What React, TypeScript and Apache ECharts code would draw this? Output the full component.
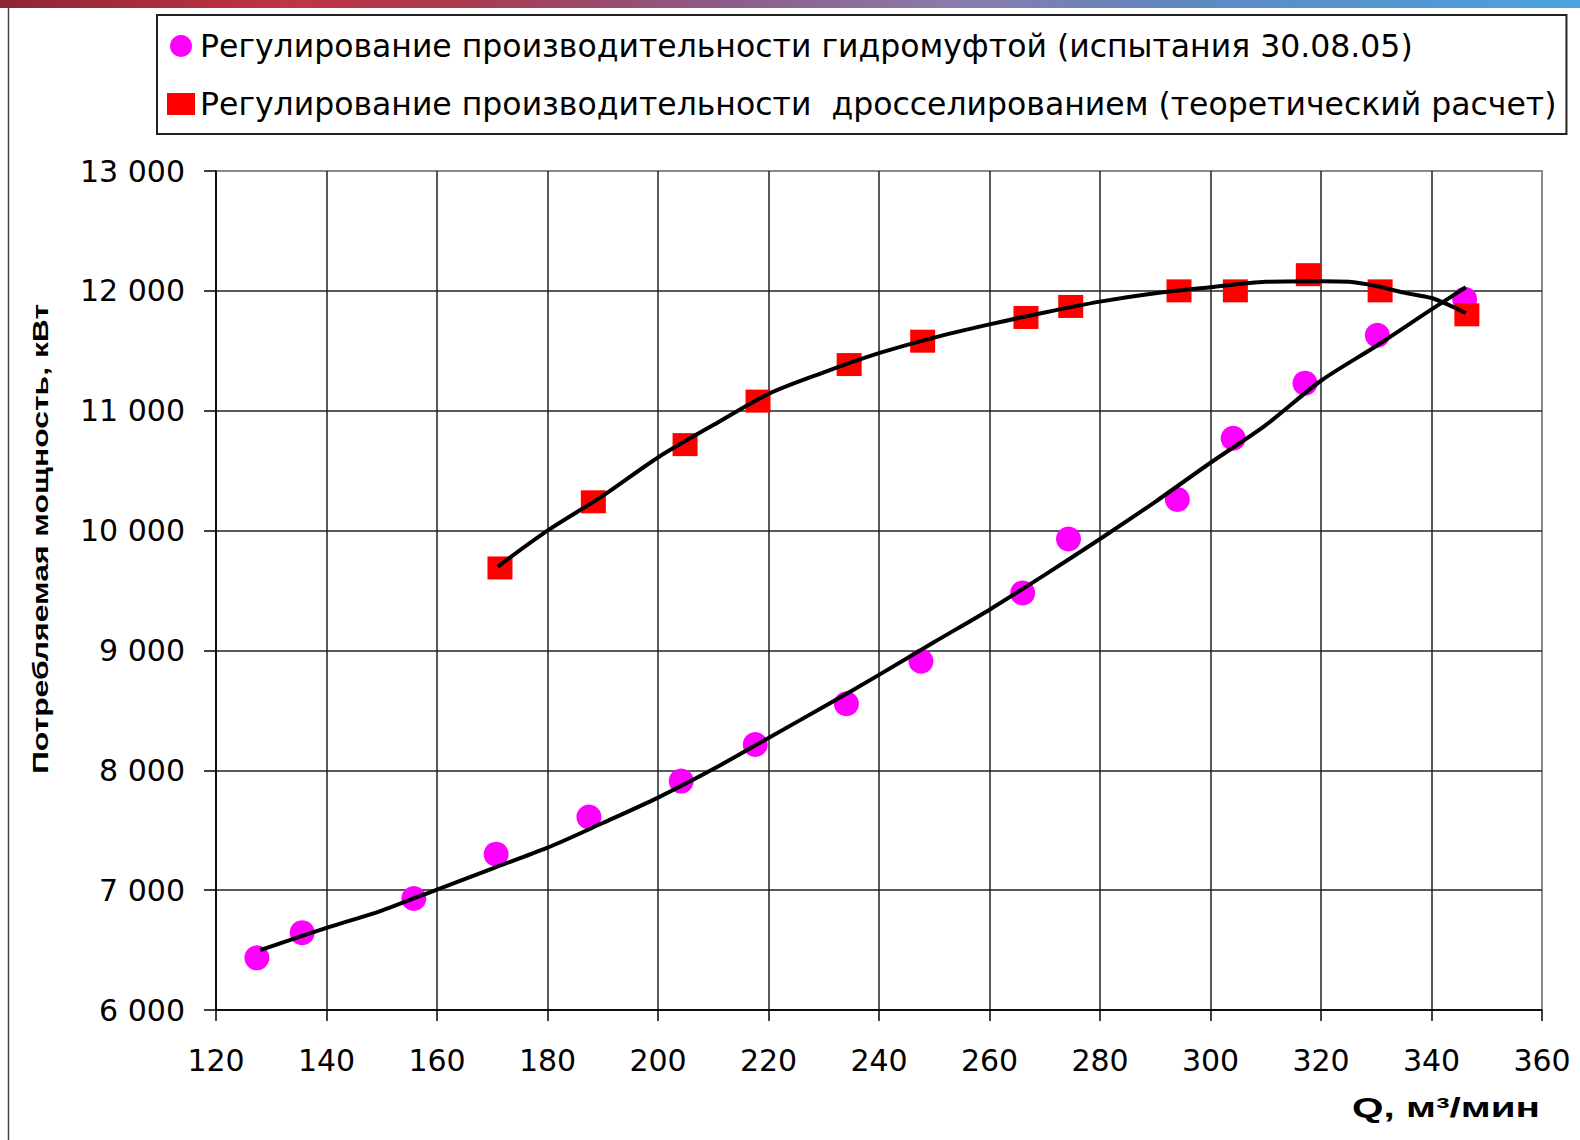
import React, { useEffect, useRef } from "react";
import * as echarts from "echarts";

// Regulation by hydraulic coupling (tests 30.08.05)
const hydroQ = [127.4, 135.6, 155.8, 170.7, 187.5, 204.2, 217.6, 234.1, 247.6, 266.0, 274.3, 294.0, 304.1, 317.1, 330.2, 346.0];
const hydroP = [6435, 6645, 6930, 7300, 7610, 7910, 8215, 8555, 8910, 9480, 9930, 10260, 10770, 11230, 11630, 11930];

// Regulation by throttling (theoretical calculation)
const throttleQ = [171.4, 188.3, 204.9, 218.1, 234.6, 247.9, 266.6, 274.7, 294.3, 304.5, 317.7, 330.7, 346.4];
const throttleP = [9688, 10240, 10717, 11080, 11385, 11580, 11778, 11870, 12000, 12000, 12135, 12000, 11800];

// Trend curves
const hydroTrendQ = [128, 140, 150, 160, 170, 180, 190, 200, 210, 220, 230, 240, 250, 260, 270, 280, 290, 300, 310, 320, 330, 340, 346.2];
const hydroTrendP = [6500, 6685, 6830, 7005, 7180, 7354, 7560, 7772, 8010, 8270, 8530, 8796, 9070, 9340, 9630, 9930, 10240, 10566, 10880, 11250, 11540, 11845, 12030];
const throttleTrendQ = [171, 180, 190, 200, 210, 220, 230, 240, 250, 260, 270, 280, 290, 300, 310, 320, 325, 330, 335, 340, 343, 346.2];
const throttleTrendP = [9700, 10000, 10290, 10610, 10880, 11140, 11320, 11480, 11610, 11720, 11820, 11910, 11980, 12030, 12075, 12080, 12075, 12040, 11985, 11940, 11885, 11815];

const seriesNames = [
  "Регулирование производительности гидромуфтой (испытания 30.08.05)",
  "Регулирование производительности  дросселированием (теоретический расчет)",
];
const yAxisTitle = "Потребляемая мощность, кВт";
const xAxisTitle = "Q, м³/мин";

const xMin = 120, xMax = 360, xStep = 20;
const yMin = 6000, yMax = 13000, yStep = 1000;

const fmtThousands = (v: number) => String(v).replace(/\B(?=(\d{3})+(?!\d))/g, " ");

export default function App() {
  const ref = useRef<HTMLDivElement>(null);
  useEffect(() => {
    if (!ref.current) return;
    const chart = echarts.init(ref.current, undefined, { renderer: "svg" });
    const pairs = (xs: number[], ys: number[]) => xs.map((x, i) => [x, ys[i]]);
    const labelFont = "DejaVu Sans";
    chart.setOption({
      animation: false,
      backgroundColor: "#ffffff",
      grid: {
        show: true,
        left: 216,
        top: 171,
        right: 38,
        bottom: 130,
        borderColor: "#8a8a8a",
        borderWidth: 2,
        backgroundColor: "transparent",
      },
      legend: {
        orient: "vertical",
        left: 157,
        top: 15,
        padding: [15, 10, 14, 10],
        itemGap: 26,
        itemWidth: 28,
        itemHeight: 22,
        borderColor: "#222",
        borderWidth: 2,
        backgroundColor: "#fff",
        textStyle: { fontFamily: labelFont, fontSize: 31.5, color: "#000", lineHeight: 31 },
        data: [
          { name: seriesNames[0], icon: "circle" },
          { name: seriesNames[1], icon: "rect" },
        ],
      },
      xAxis: {
        type: "value",
        min: xMin,
        max: xMax,
        interval: xStep,
        axisLine: { show: true, onZero: false, lineStyle: { color: "#000", width: 1.5 } },
        axisTick: { show: true, length: 11, lineStyle: { color: "#000", width: 1.5 } },
        splitLine: { show: true, showMaxLine: false, lineStyle: { color: "#222", width: 1.5 } },
        axisLabel: { fontFamily: labelFont, fontSize: 30, color: "#000", margin: 35 },
      },
      yAxis: {
        type: "value",
        min: yMin,
        max: yMax,
        interval: yStep,
        axisLine: { show: true, onZero: false, lineStyle: { color: "#000", width: 1.5 } },
        axisTick: { show: true, length: 12, lineStyle: { color: "#000", width: 1.5 } },
        splitLine: { show: true, showMaxLine: false, lineStyle: { color: "#222", width: 1.5 } },
        axisLabel: { fontFamily: labelFont, fontSize: 30, color: "#000", margin: 31, formatter: fmtThousands },
      },
      series: [
        {
          type: "scatter",
          name: seriesNames[0],
          data: pairs(hydroQ, hydroP),
          symbol: "circle",
          symbolSize: 25,
          itemStyle: { color: "#ff00ff", opacity: 1 },
          z: 2,
        },
        {
          type: "scatter",
          name: seriesNames[1],
          data: pairs(throttleQ, throttleP),
          symbol: "rect",
          symbolSize: [25, 23],
          itemStyle: { color: "#ff0000", opacity: 1 },
          z: 3,
        },
        {
          type: "line",
          name: "trend-hydro",
          data: pairs(hydroTrendQ, hydroTrendP),
          smooth: 0.3,
          showSymbol: false,
          silent: true,
          lineStyle: { color: "#000", width: 4 },
          z: 4,
        },
        {
          type: "line",
          name: "trend-throttle",
          data: pairs(throttleTrendQ, throttleTrendP),
          smooth: 0.3,
          showSymbol: false,
          silent: true,
          lineStyle: { color: "#000", width: 4 },
          z: 4,
        },
      ],
      graphic: [
        {
          type: "rect",
          shape: { x: 0, y: 0, width: 1580, height: 8 },
          style: {
            fill: new echarts.graphic.LinearGradient(0, 0, 1, 0, [
              { offset: 0, color: "#8e2434" },
              { offset: 0.18, color: "#c03444" },
              { offset: 0.3, color: "#a83a50" },
              { offset: 0.45, color: "#8d5a86" },
              { offset: 0.6, color: "#8a7aaa" },
              { offset: 0.75, color: "#5f88c0" },
              { offset: 1, color: "#4aa3e0" },
            ]),
          },
          silent: true,
        },
        {
          type: "line",
          shape: { x1: 8.5, y1: 8, x2: 8.5, y2: 1140 },
          style: { stroke: "#444", lineWidth: 1.5 },
          silent: true,
        },
        {
          type: "text",
          x: 40,
          y: 539,
          rotation: Math.PI / 2,
          scaleX: 1.45,
          style: {
            text: yAxisTitle,
            fontFamily: "Liberation Sans",
            fontWeight: "bold",
            fontSize: 22,
            fill: "#000",
            align: "center",
            textAlign: "center",
            verticalAlign: "middle",
            textVerticalAlign: "middle",
          },
          silent: true,
        },
        {
          type: "text",
          x: 1540,
          y: 1108,
          scaleX: 1.5,
          style: {
            text: xAxisTitle,
            fontFamily: "Liberation Sans",
            fontWeight: "bold",
            fontSize: 27,
            fill: "#000",
            align: "right",
            textAlign: "right",
            verticalAlign: "middle",
            textVerticalAlign: "middle",
          },
          silent: true,
        },
      ],
    });
    return () => chart.dispose();
  }, []);
  return (
    <div
      ref={ref}
      style={{ position: "fixed", left: 0, top: 0, width: 1580, height: 1140, background: "#fff" }}
    />
  );
}
